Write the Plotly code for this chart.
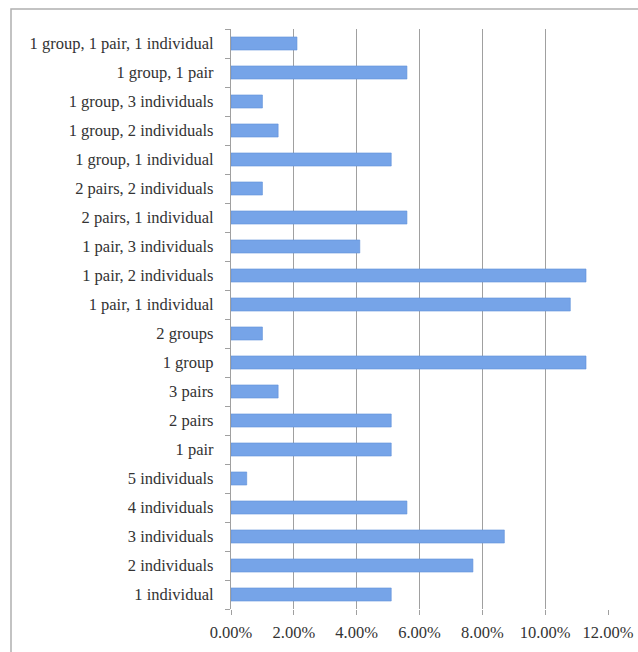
import plotly.graph_objects as go

categories = [
    "1 individual", "2 individuals", "3 individuals", "4 individuals", "5 individuals",
    "1 pair", "2 pairs", "3 pairs", "1 group", "2 groups",
    "1 pair, 1 individual", "1 pair, 2 individuals", "1 pair, 3 individuals",
    "2 pairs, 1 individual", "2 pairs, 2 individuals",
    "1 group, 1 individual", "1 group, 2 individuals", "1 group, 3 individuals",
    "1 group, 1 pair", "1 group, 1 pair, 1 individual",
]
values = [
    0.051, 0.077, 0.087, 0.056, 0.005,
    0.051, 0.051, 0.015, 0.113, 0.010,
    0.108, 0.113, 0.041,
    0.056, 0.010,
    0.051, 0.015, 0.010,
    0.056, 0.021,
]
x_ticks = [0, 0.02, 0.04, 0.06, 0.08, 0.10, 0.12]

W, H = 638, 652
L, R, T, B = 231, 30, 29, 43
pw, ph = W - L - R, H - T - B

def px_x(p):
    return (p - L) / pw

def px_y(p):
    return 1 - (p - T) / ph

fig = go.Figure(go.Bar(
    x=values, y=categories, orientation="h",
    marker=dict(color="#76a4e8", line=dict(color="#5e8fd8", width=0.6)),
    hoverinfo="x+y",
))

font = dict(family="Liberation Serif, DejaVu Serif, serif", size=16.5, color="#333333")

fig.update_layout(
    width=W, height=H,
    margin=dict(l=L, r=R, t=T, b=B, autoexpand=False),
    paper_bgcolor="white", plot_bgcolor="white",
    bargap=0.55,
    showlegend=False,
    font=font,
    shapes=[dict(type="rect", xref="paper", yref="paper",
                 x0=px_x(11), x1=px_x(660), y0=px_y(680), y1=px_y(9),
                 line=dict(color="#b0b0b0", width=1.5), layer="below")],
)
fig.update_xaxes(
    range=[0, 0.12], tickvals=x_ticks, tickformat=".2%",
    showgrid=True, gridcolor="#a0a0a0", gridwidth=1.3,
    zeroline=False, showline=False, automargin=False,
    ticks="outside", ticklen=5, tickcolor="#a0a0a0", tickwidth=1.3,
    tickfont=font, ticklabelstandoff=3, fixedrange=True,
)
fig.update_yaxes(
    type="category", categoryorder="array", categoryarray=categories,
    showgrid=False, zeroline=False, automargin=False,
    showline=True, linecolor="#a0a0a0", linewidth=1.3,
    ticks="outside", ticklen=5, tickcolor="#a0a0a0", tickwidth=1.3,
    tickson="boundaries", tickfont=font, ticklabelstandoff=13,
    fixedrange=True,
)

fig.write_html("out.html")
